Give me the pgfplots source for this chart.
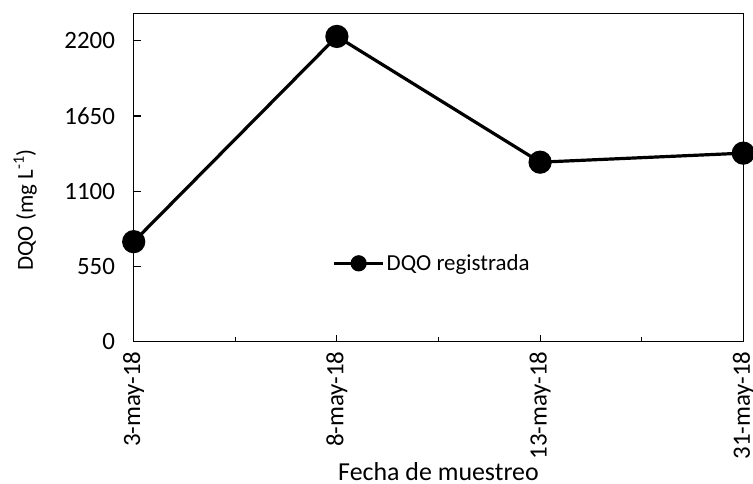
\documentclass[border=0pt]{standalone}
\usepackage{pgfplots}
\pgfplotsset{compat=1.18}
\usepackage{fontspec}
\setmainfont{Carlito}
\begin{document}
\begin{tikzpicture}
\begin{axis}[
  name=main,
  scale only axis,
  width=609.6bp, height=328.4bp,
  xmin=0, xmax=3, ymin=0, ymax=2400,
  xtick={0,1,2,3},
  xticklabels={3-may-18,8-may-18,13-may-18,31-may-18},
  minor xtick={0.5,1.5,2.5},
  ytick={0,550,1100,1650,2200},
  tick align=inside,
  tick pos=left,
  major tick length=7bp,
  minor tick length=5bp,
  every tick/.style={black, line width=1.2bp},
  axis line style={line width=1.3bp},
  clip=false,
  /pgf/number format/assume math mode=true,
  /pgf/number format/1000 sep={},
  tick label style={font=\fontsize{25}{29}\selectfont},
  xticklabel style={rotate=90, anchor=east, xshift=-6.5bp},
  yticklabel style={xshift=-15.3bp},
  xlabel={Fecha de muestreo},
  ylabel={DQO (mg L\textsuperscript{-1})},
  label style={font=\fontsize{23}{26}\selectfont},
  xlabel style={at={(axis description cs:0.5,-0.424)}, anchor=base, font=\fontsize{26}{30}\selectfont},
  ylabel style={at={(axis description cs:-0.178,0.401)}, anchor=center, rotate=0},
  legend style={draw=none, fill=none, at={(axis description cs:0.3264,0.2387)}, anchor=west, inner sep=0pt, outer sep=0pt, font=\fontsize{23}{26}\selectfont},
  legend cell align=left,
  legend image code/.code={\draw[line width=3bp] (0bp,0bp) -- (49bp,0bp); \fill (24.5bp,0bp) circle (6.5bp);},
]
\addplot[black, line width=3.2bp, mark=*, mark size=10bp, mark options={fill=black}] coordinates {
  (0,731) (1,2231) (2,1312) (3,1378)
};
\addlegendentry{DQO registrada}
\end{axis}
\pgfresetboundingbox
\path (main.south west) ++(-133.7bp,-142.3bp) rectangle ([shift={(9.7bp,13.3bp)}]main.north east);
\end{tikzpicture}
\end{document}
